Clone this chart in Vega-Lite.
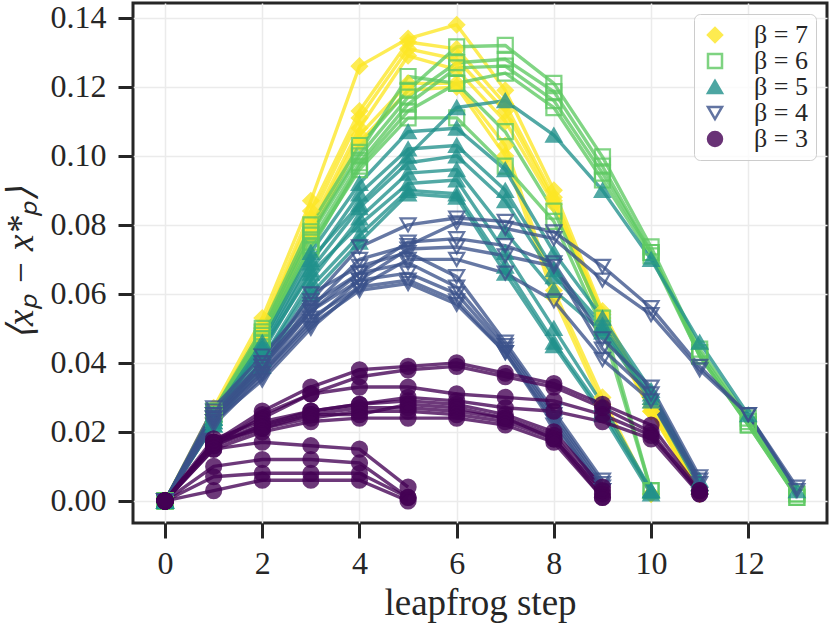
{
  "$schema": "https://vega.github.io/schema/vega-lite/v6.json",
  "width": 694,
  "height": 520,
  "autosize": "none",
  "padding": {"left": 133, "top": 3, "right": 3, "bottom": 103},
  "background": "white",
  "config": {
    "view": {"stroke": "#262626", "strokeWidth": 3},
    "font": "Liberation Serif",
    "axis": {
      "grid": true, "gridColor": "#ebebeb", "gridWidth": 1.5, "domain": false,
      "tickColor": "#262626", "tickWidth": 3, "tickSize": 15,
      "labelFont": "Liberation Serif", "labelFontSize": 32, "labelColor": "#262626",
      "titleFont": "Liberation Serif", "titleFontSize": 37, "titleFontWeight": "normal", "titleColor": "#262626"
    },
    "legend": {
      "title": null,
      "orient": "top-right",
      "offset": 11,
      "padding": 8,
      "strokeColor": "#cccccc",
      "cornerRadius": 6,
      "fillColor": "rgba(255,255,255,0.8)",
      "labelFont": "Liberation Serif",
      "labelFontSize": 26,
      "labelColor": "#262626",
      "symbolSize": 196,
      "symbolStrokeWidth": 2.5,
      "symbolOpacity": 0.8,
      "labelOffset": 26,
      "rowPadding": -4
    }
  },
  "data": {
    "values": [
      {"b":7,"r":"y1","s":0,"v":0},{"b":7,"r":"y1","s":1,"v":0.027},{"b":7,"r":"y1","s":2,"v":0.053},{"b":7,"r":"y1","s":3,"v":0.087},{"b":7,"r":"y1","s":4,"v":0.126},{"b":7,"r":"y1","s":5,"v":0.134},{"b":7,"r":"y1","s":6,"v":0.138},{"b":7,"r":"y1","s":7,"v":0.119},{"b":7,"r":"y1","s":8,"v":0.090},{"b":7,"r":"y1","s":9,"v":0.055},{"b":7,"r":"y1","s":10,"v":0.028},{"b":7,"r":"y1","s":11,"v":0.003},
      {"b":7,"r":"y2","s":0,"v":0},{"b":7,"r":"y2","s":1,"v":0.026},{"b":7,"r":"y2","s":2,"v":0.051},{"b":7,"r":"y2","s":3,"v":0.084},{"b":7,"r":"y2","s":4,"v":0.113},{"b":7,"r":"y2","s":5,"v":0.133},{"b":7,"r":"y2","s":6,"v":0.131},{"b":7,"r":"y2","s":7,"v":0.115},{"b":7,"r":"y2","s":8,"v":0.088},{"b":7,"r":"y2","s":9,"v":0.054},{"b":7,"r":"y2","s":10,"v":0.027},{"b":7,"r":"y2","s":11,"v":0.003},
      {"b":7,"r":"y3","s":0,"v":0},{"b":7,"r":"y3","s":1,"v":0.025},{"b":7,"r":"y3","s":2,"v":0.050},{"b":7,"r":"y3","s":3,"v":0.082},{"b":7,"r":"y3","s":4,"v":0.111},{"b":7,"r":"y3","s":5,"v":0.131},{"b":7,"r":"y3","s":6,"v":0.128},{"b":7,"r":"y3","s":7,"v":0.113},{"b":7,"r":"y3","s":8,"v":0.087},{"b":7,"r":"y3","s":9,"v":0.053},{"b":7,"r":"y3","s":10,"v":0.026},{"b":7,"r":"y3","s":11,"v":0.002},
      {"b":7,"r":"y4","s":0,"v":0},{"b":7,"r":"y4","s":1,"v":0.025},{"b":7,"r":"y4","s":2,"v":0.049},{"b":7,"r":"y4","s":3,"v":0.080},{"b":7,"r":"y4","s":4,"v":0.108},{"b":7,"r":"y4","s":5,"v":0.129},{"b":7,"r":"y4","s":6,"v":0.125},{"b":7,"r":"y4","s":7,"v":0.110},{"b":7,"r":"y4","s":8,"v":0.086},{"b":7,"r":"y4","s":9,"v":0.052},{"b":7,"r":"y4","s":10,"v":0.026},{"b":7,"r":"y4","s":11,"v":0.002},
      {"b":7,"r":"y5","s":0,"v":0},{"b":7,"r":"y5","s":1,"v":0.024},{"b":7,"r":"y5","s":2,"v":0.048},{"b":7,"r":"y5","s":3,"v":0.079},{"b":7,"r":"y5","s":4,"v":0.106},{"b":7,"r":"y5","s":5,"v":0.121},{"b":7,"r":"y5","s":6,"v":0.121},{"b":7,"r":"y5","s":7,"v":0.103},{"b":7,"r":"y5","s":8,"v":0.061},{"b":7,"r":"y5","s":9,"v":0.030},{"b":7,"r":"y5","s":10,"v":0.002},
      {"b":7,"r":"y6","s":0,"v":0},{"b":7,"r":"y6","s":1,"v":0.024},{"b":7,"r":"y6","s":2,"v":0.047},{"b":7,"r":"y6","s":3,"v":0.077},{"b":7,"r":"y6","s":4,"v":0.104},{"b":7,"r":"y6","s":5,"v":0.119},{"b":7,"r":"y6","s":6,"v":0.120},{"b":7,"r":"y6","s":7,"v":0.100},{"b":7,"r":"y6","s":8,"v":0.059},{"b":7,"r":"y6","s":9,"v":0.028},{"b":7,"r":"y6","s":10,"v":0.002},

      {"b":6,"r":"g1","s":0,"v":0},{"b":6,"r":"g1","s":1,"v":0.026},{"b":6,"r":"g1","s":2,"v":0.050},{"b":6,"r":"g1","s":3,"v":0.080},{"b":6,"r":"g1","s":4,"v":0.103},{"b":6,"r":"g1","s":5,"v":0.119},{"b":6,"r":"g1","s":6,"v":0.1316},{"b":6,"r":"g1","s":7,"v":0.132},{"b":6,"r":"g1","s":8,"v":0.121},{"b":6,"r":"g1","s":9,"v":0.0997},{"b":6,"r":"g1","s":10,"v":0.0736},{"b":6,"r":"g1","s":11,"v":0.044},{"b":6,"r":"g1","s":12,"v":0.024},{"b":6,"r":"g1","s":13,"v":0.002},
      {"b":6,"r":"g2","s":0,"v":0},{"b":6,"r":"g2","s":1,"v":0.025},{"b":6,"r":"g2","s":2,"v":0.048},{"b":6,"r":"g2","s":3,"v":0.077},{"b":6,"r":"g2","s":4,"v":0.100},{"b":6,"r":"g2","s":5,"v":0.117},{"b":6,"r":"g2","s":6,"v":0.127},{"b":6,"r":"g2","s":7,"v":0.128},{"b":6,"r":"g2","s":8,"v":0.1186},{"b":6,"r":"g2","s":9,"v":0.097},{"b":6,"r":"g2","s":10,"v":0.072},{"b":6,"r":"g2","s":11,"v":0.043},{"b":6,"r":"g2","s":12,"v":0.023},{"b":6,"r":"g2","s":13,"v":0.002},
      {"b":6,"r":"g3","s":0,"v":0},{"b":6,"r":"g3","s":1,"v":0.025},{"b":6,"r":"g3","s":2,"v":0.047},{"b":6,"r":"g3","s":3,"v":0.075},{"b":6,"r":"g3","s":4,"v":0.098},{"b":6,"r":"g3","s":5,"v":0.115},{"b":6,"r":"g3","s":6,"v":0.1255},{"b":6,"r":"g3","s":7,"v":0.126},{"b":6,"r":"g3","s":8,"v":0.116},{"b":6,"r":"g3","s":9,"v":0.095},{"b":6,"r":"g3","s":10,"v":0.072},{"b":6,"r":"g3","s":11,"v":0.042},{"b":6,"r":"g3","s":12,"v":0.022},{"b":6,"r":"g3","s":13,"v":0.001},
      {"b":6,"r":"g4","s":0,"v":0},{"b":6,"r":"g4","s":1,"v":0.024},{"b":6,"r":"g4","s":2,"v":0.046},{"b":6,"r":"g4","s":3,"v":0.073},{"b":6,"r":"g4","s":4,"v":0.097},{"b":6,"r":"g4","s":5,"v":0.113},{"b":6,"r":"g4","s":6,"v":0.121},{"b":6,"r":"g4","s":7,"v":0.124},{"b":6,"r":"g4","s":8,"v":0.114},{"b":6,"r":"g4","s":9,"v":0.093},{"b":6,"r":"g4","s":10,"v":0.071},{"b":6,"r":"g4","s":11,"v":0.042},{"b":6,"r":"g4","s":12,"v":0.022},{"b":6,"r":"g4","s":13,"v":0.001},
      {"b":6,"r":"g5","s":0,"v":0},{"b":6,"r":"g5","s":1,"v":0.026},{"b":6,"r":"g5","s":2,"v":0.049},{"b":6,"r":"g5","s":3,"v":0.078},{"b":6,"r":"g5","s":4,"v":0.101},{"b":6,"r":"g5","s":5,"v":0.123},{"b":6,"r":"g5","s":6,"v":0.121},{"b":6,"r":"g5","s":7,"v":0.107},{"b":6,"r":"g5","s":8,"v":0.084},{"b":6,"r":"g5","s":9,"v":0.053},{"b":6,"r":"g5","s":10,"v":0.003},
      {"b":6,"r":"g6","s":0,"v":0},{"b":6,"r":"g6","s":1,"v":0.025},{"b":6,"r":"g6","s":2,"v":0.047},{"b":6,"r":"g6","s":3,"v":0.074},{"b":6,"r":"g6","s":4,"v":0.096},{"b":6,"r":"g6","s":5,"v":0.111},{"b":6,"r":"g6","s":6,"v":0.111},{"b":6,"r":"g6","s":7,"v":0.097},{"b":6,"r":"g6","s":8,"v":0.081},{"b":6,"r":"g6","s":9,"v":0.050},{"b":6,"r":"g6","s":10,"v":0.003},

      {"b":5,"r":"t1","s":0,"v":0},{"b":5,"r":"t1","s":1,"v":0.024},{"b":5,"r":"t1","s":2,"v":0.045},{"b":5,"r":"t1","s":3,"v":0.070},{"b":5,"r":"t1","s":4,"v":0.086},{"b":5,"r":"t1","s":5,"v":0.100},{"b":5,"r":"t1","s":6,"v":0.114},{"b":5,"r":"t1","s":7,"v":0.116},{"b":5,"r":"t1","s":8,"v":0.106},{"b":5,"r":"t1","s":9,"v":0.090},{"b":5,"r":"t1","s":10,"v":0.070},{"b":5,"r":"t1","s":11,"v":0.046},{"b":5,"r":"t1","s":12,"v":0.025},{"b":5,"r":"t1","s":13,"v":0.003},
      {"b":5,"r":"t2","s":0,"v":0},{"b":5,"r":"t2","s":1,"v":0.025},{"b":5,"r":"t2","s":2,"v":0.046},{"b":5,"r":"t2","s":3,"v":0.072},{"b":5,"r":"t2","s":4,"v":0.092},{"b":5,"r":"t2","s":5,"v":0.107},{"b":5,"r":"t2","s":6,"v":0.108},{"b":5,"r":"t2","s":7,"v":0.096},{"b":5,"r":"t2","s":8,"v":0.072},{"b":5,"r":"t2","s":9,"v":0.053},{"b":5,"r":"t2","s":10,"v":0.032},{"b":5,"r":"t2","s":11,"v":0.006},
      {"b":5,"r":"t3","s":0,"v":0},{"b":5,"r":"t3","s":1,"v":0.024},{"b":5,"r":"t3","s":2,"v":0.044},{"b":5,"r":"t3","s":3,"v":0.069},{"b":5,"r":"t3","s":4,"v":0.089},{"b":5,"r":"t3","s":5,"v":0.102},{"b":5,"r":"t3","s":6,"v":0.103},{"b":5,"r":"t3","s":7,"v":0.090},{"b":5,"r":"t3","s":8,"v":0.067},{"b":5,"r":"t3","s":9,"v":0.051},{"b":5,"r":"t3","s":10,"v":0.031},{"b":5,"r":"t3","s":11,"v":0.005},
      {"b":5,"r":"t4","s":0,"v":0},{"b":5,"r":"t4","s":1,"v":0.023},{"b":5,"r":"t4","s":2,"v":0.043},{"b":5,"r":"t4","s":3,"v":0.067},{"b":5,"r":"t4","s":4,"v":0.085},{"b":5,"r":"t4","s":5,"v":0.098},{"b":5,"r":"t4","s":6,"v":0.100},{"b":5,"r":"t4","s":7,"v":0.087},{"b":5,"r":"t4","s":8,"v":0.065},{"b":5,"r":"t4","s":9,"v":0.050},{"b":5,"r":"t4","s":10,"v":0.030},{"b":5,"r":"t4","s":11,"v":0.005},
      {"b":5,"r":"t5","s":0,"v":0},{"b":5,"r":"t5","s":1,"v":0.022},{"b":5,"r":"t5","s":2,"v":0.041},{"b":5,"r":"t5","s":3,"v":0.064},{"b":5,"r":"t5","s":4,"v":0.082},{"b":5,"r":"t5","s":5,"v":0.095},{"b":5,"r":"t5","s":6,"v":0.096},{"b":5,"r":"t5","s":7,"v":0.078},{"b":5,"r":"t5","s":8,"v":0.061},{"b":5,"r":"t5","s":9,"v":0.049},{"b":5,"r":"t5","s":10,"v":0.029},{"b":5,"r":"t5","s":11,"v":0.004},
      {"b":5,"r":"t6","s":0,"v":0},{"b":5,"r":"t6","s":1,"v":0.024},{"b":5,"r":"t6","s":2,"v":0.044},{"b":5,"r":"t6","s":3,"v":0.066},{"b":5,"r":"t6","s":4,"v":0.080},{"b":5,"r":"t6","s":5,"v":0.092},{"b":5,"r":"t6","s":6,"v":0.093},{"b":5,"r":"t6","s":7,"v":0.072},{"b":5,"r":"t6","s":8,"v":0.050},{"b":5,"r":"t6","s":9,"v":0.028},{"b":5,"r":"t6","s":10,"v":0.003},
      {"b":5,"r":"t7","s":0,"v":0},{"b":5,"r":"t7","s":1,"v":0.023},{"b":5,"r":"t7","s":2,"v":0.041},{"b":5,"r":"t7","s":3,"v":0.062},{"b":5,"r":"t7","s":4,"v":0.077},{"b":5,"r":"t7","s":5,"v":0.090},{"b":5,"r":"t7","s":6,"v":0.089},{"b":5,"r":"t7","s":7,"v":0.068},{"b":5,"r":"t7","s":8,"v":0.046},{"b":5,"r":"t7","s":9,"v":0.026},{"b":5,"r":"t7","s":10,"v":0.003},
      {"b":5,"r":"t8","s":0,"v":0},{"b":5,"r":"t8","s":1,"v":0.022},{"b":5,"r":"t8","s":2,"v":0.039},{"b":5,"r":"t8","s":3,"v":0.060},{"b":5,"r":"t8","s":4,"v":0.075},{"b":5,"r":"t8","s":5,"v":0.089},{"b":5,"r":"t8","s":6,"v":0.088},{"b":5,"r":"t8","s":7,"v":0.066},{"b":5,"r":"t8","s":8,"v":0.045},{"b":5,"r":"t8","s":9,"v":0.025},{"b":5,"r":"t8","s":10,"v":0.002},

      {"b":4,"r":"b1","s":0,"v":0},{"b":4,"r":"b1","s":1,"v":0.027},{"b":4,"r":"b1","s":2,"v":0.042},{"b":4,"r":"b1","s":3,"v":0.058},{"b":4,"r":"b1","s":4,"v":0.0736},{"b":4,"r":"b1","s":5,"v":0.080},{"b":4,"r":"b1","s":6,"v":0.082},{"b":4,"r":"b1","s":7,"v":0.081},{"b":4,"r":"b1","s":8,"v":0.078},{"b":4,"r":"b1","s":9,"v":0.068},{"b":4,"r":"b1","s":10,"v":0.056},{"b":4,"r":"b1","s":11,"v":0.039},{"b":4,"r":"b1","s":12,"v":0.025},{"b":4,"r":"b1","s":13,"v":0.004},
      {"b":4,"r":"b2","s":0,"v":0},{"b":4,"r":"b2","s":1,"v":0.026},{"b":4,"r":"b2","s":2,"v":0.040},{"b":4,"r":"b2","s":3,"v":0.056},{"b":4,"r":"b2","s":4,"v":0.070},{"b":4,"r":"b2","s":5,"v":0.074},{"b":4,"r":"b2","s":6,"v":0.0806},{"b":4,"r":"b2","s":7,"v":0.079},{"b":4,"r":"b2","s":8,"v":0.076},{"b":4,"r":"b2","s":9,"v":0.064},{"b":4,"r":"b2","s":10,"v":0.054},{"b":4,"r":"b2","s":11,"v":0.038},{"b":4,"r":"b2","s":12,"v":0.025},{"b":4,"r":"b2","s":13,"v":0.003},
      {"b":4,"r":"b3","s":0,"v":0},{"b":4,"r":"b3","s":1,"v":0.025},{"b":4,"r":"b3","s":2,"v":0.039},{"b":4,"r":"b3","s":3,"v":0.055},{"b":4,"r":"b3","s":4,"v":0.066},{"b":4,"r":"b3","s":5,"v":0.075},{"b":4,"r":"b3","s":6,"v":0.076},{"b":4,"r":"b3","s":7,"v":0.074},{"b":4,"r":"b3","s":8,"v":0.069},{"b":4,"r":"b3","s":9,"v":0.047},{"b":4,"r":"b3","s":10,"v":0.033},{"b":4,"r":"b3","s":11,"v":0.007},
      {"b":4,"r":"b4","s":0,"v":0},{"b":4,"r":"b4","s":1,"v":0.024},{"b":4,"r":"b4","s":2,"v":0.037},{"b":4,"r":"b4","s":3,"v":0.052},{"b":4,"r":"b4","s":4,"v":0.064},{"b":4,"r":"b4","s":5,"v":0.073},{"b":4,"r":"b4","s":6,"v":0.0736},{"b":4,"r":"b4","s":7,"v":0.071},{"b":4,"r":"b4","s":8,"v":0.068},{"b":4,"r":"b4","s":9,"v":0.044},{"b":4,"r":"b4","s":10,"v":0.031},{"b":4,"r":"b4","s":11,"v":0.006},
      {"b":4,"r":"b5","s":0,"v":0},{"b":4,"r":"b5","s":1,"v":0.023},{"b":4,"r":"b5","s":2,"v":0.035},{"b":4,"r":"b5","s":3,"v":0.050},{"b":4,"r":"b5","s":4,"v":0.062},{"b":4,"r":"b5","s":5,"v":0.070},{"b":4,"r":"b5","s":6,"v":0.070},{"b":4,"r":"b5","s":7,"v":0.066},{"b":4,"r":"b5","s":8,"v":0.058},{"b":4,"r":"b5","s":9,"v":0.041},{"b":4,"r":"b5","s":10,"v":0.029},{"b":4,"r":"b5","s":11,"v":0.005},
      {"b":4,"r":"b6","s":0,"v":0},{"b":4,"r":"b6","s":1,"v":0.025},{"b":4,"r":"b6","s":2,"v":0.040},{"b":4,"r":"b6","s":3,"v":0.060},{"b":4,"r":"b6","s":4,"v":0.068},{"b":4,"r":"b6","s":5,"v":0.072},{"b":4,"r":"b6","s":6,"v":0.065},{"b":4,"r":"b6","s":7,"v":0.046},{"b":4,"r":"b6","s":8,"v":0.026},{"b":4,"r":"b6","s":9,"v":0.006},
      {"b":4,"r":"b7","s":0,"v":0},{"b":4,"r":"b7","s":1,"v":0.024},{"b":4,"r":"b7","s":2,"v":0.039},{"b":4,"r":"b7","s":3,"v":0.057},{"b":4,"r":"b7","s":4,"v":0.066},{"b":4,"r":"b7","s":5,"v":0.069},{"b":4,"r":"b7","s":6,"v":0.062},{"b":4,"r":"b7","s":7,"v":0.045},{"b":4,"r":"b7","s":8,"v":0.025},{"b":4,"r":"b7","s":9,"v":0.005},
      {"b":4,"r":"b8","s":0,"v":0},{"b":4,"r":"b8","s":1,"v":0.024},{"b":4,"r":"b8","s":2,"v":0.038},{"b":4,"r":"b8","s":3,"v":0.055},{"b":4,"r":"b8","s":4,"v":0.064},{"b":4,"r":"b8","s":5,"v":0.066},{"b":4,"r":"b8","s":6,"v":0.060},{"b":4,"r":"b8","s":7,"v":0.044},{"b":4,"r":"b8","s":8,"v":0.024},{"b":4,"r":"b8","s":9,"v":0.004},
      {"b":4,"r":"b9","s":0,"v":0},{"b":4,"r":"b9","s":1,"v":0.023},{"b":4,"r":"b9","s":2,"v":0.037},{"b":4,"r":"b9","s":3,"v":0.053},{"b":4,"r":"b9","s":4,"v":0.062},{"b":4,"r":"b9","s":5,"v":0.064},{"b":4,"r":"b9","s":6,"v":0.058},{"b":4,"r":"b9","s":7,"v":0.043},{"b":4,"r":"b9","s":8,"v":0.023},{"b":4,"r":"b9","s":9,"v":0.003},
      {"b":4,"r":"b10","s":0,"v":0},{"b":4,"r":"b10","s":1,"v":0.022},{"b":4,"r":"b10","s":2,"v":0.036},{"b":4,"r":"b10","s":3,"v":0.051},{"b":4,"r":"b10","s":4,"v":0.061},{"b":4,"r":"b10","s":5,"v":0.063},{"b":4,"r":"b10","s":6,"v":0.057},{"b":4,"r":"b10","s":7,"v":0.043},{"b":4,"r":"b10","s":8,"v":0.022},{"b":4,"r":"b10","s":9,"v":0.003},

      {"b":3,"r":"p1","s":0,"v":0},{"b":3,"r":"p1","s":1,"v":0.017},{"b":3,"r":"p1","s":2,"v":0.026},{"b":3,"r":"p1","s":3,"v":0.033},{"b":3,"r":"p1","s":4,"v":0.038},{"b":3,"r":"p1","s":5,"v":0.039},{"b":3,"r":"p1","s":6,"v":0.040},{"b":3,"r":"p1","s":7,"v":0.037},{"b":3,"r":"p1","s":8,"v":0.034},{"b":3,"r":"p1","s":9,"v":0.028},{"b":3,"r":"p1","s":10,"v":0.022},{"b":3,"r":"p1","s":11,"v":0.003},
      {"b":3,"r":"p2","s":0,"v":0},{"b":3,"r":"p2","s":1,"v":0.016},{"b":3,"r":"p2","s":2,"v":0.025},{"b":3,"r":"p2","s":3,"v":0.031},{"b":3,"r":"p2","s":4,"v":0.036},{"b":3,"r":"p2","s":5,"v":0.038},{"b":3,"r":"p2","s":6,"v":0.039},{"b":3,"r":"p2","s":7,"v":0.036},{"b":3,"r":"p2","s":8,"v":0.033},{"b":3,"r":"p2","s":9,"v":0.027},{"b":3,"r":"p2","s":10,"v":0.020},{"b":3,"r":"p2","s":11,"v":0.002},
      {"b":3,"r":"p3","s":0,"v":0},{"b":3,"r":"p3","s":1,"v":0.017},{"b":3,"r":"p3","s":2,"v":0.024},{"b":3,"r":"p3","s":3,"v":0.031},{"b":3,"r":"p3","s":4,"v":0.033},{"b":3,"r":"p3","s":5,"v":0.033},{"b":3,"r":"p3","s":6,"v":0.031},{"b":3,"r":"p3","s":7,"v":0.030},{"b":3,"r":"p3","s":8,"v":0.029},{"b":3,"r":"p3","s":9,"v":0.025},{"b":3,"r":"p3","s":10,"v":0.019},{"b":3,"r":"p3","s":11,"v":0.003},
      {"b":3,"r":"p4","s":0,"v":0},{"b":3,"r":"p4","s":1,"v":0.016},{"b":3,"r":"p4","s":2,"v":0.022},{"b":3,"r":"p4","s":3,"v":0.026},{"b":3,"r":"p4","s":4,"v":0.028},{"b":3,"r":"p4","s":5,"v":0.030},{"b":3,"r":"p4","s":6,"v":0.029},{"b":3,"r":"p4","s":7,"v":0.027},{"b":3,"r":"p4","s":8,"v":0.026},{"b":3,"r":"p4","s":9,"v":0.023},{"b":3,"r":"p4","s":10,"v":0.018},{"b":3,"r":"p4","s":11,"v":0.002},
      {"b":3,"r":"p5","s":0,"v":0},{"b":3,"r":"p5","s":1,"v":0.018},{"b":3,"r":"p5","s":2,"v":0.023},{"b":3,"r":"p5","s":3,"v":0.026},{"b":3,"r":"p5","s":4,"v":0.028},{"b":3,"r":"p5","s":5,"v":0.029},{"b":3,"r":"p5","s":6,"v":0.028},{"b":3,"r":"p5","s":7,"v":0.025},{"b":3,"r":"p5","s":8,"v":0.020},{"b":3,"r":"p5","s":9,"v":0.004},
      {"b":3,"r":"p6","s":0,"v":0},{"b":3,"r":"p6","s":1,"v":0.017},{"b":3,"r":"p6","s":2,"v":0.022},{"b":3,"r":"p6","s":3,"v":0.025},{"b":3,"r":"p6","s":4,"v":0.027},{"b":3,"r":"p6","s":5,"v":0.027},{"b":3,"r":"p6","s":6,"v":0.026},{"b":3,"r":"p6","s":7,"v":0.024},{"b":3,"r":"p6","s":8,"v":0.019},{"b":3,"r":"p6","s":9,"v":0.002},
      {"b":3,"r":"p7","s":0,"v":0},{"b":3,"r":"p7","s":1,"v":0.016},{"b":3,"r":"p7","s":2,"v":0.021},{"b":3,"r":"p7","s":3,"v":0.024},{"b":3,"r":"p7","s":4,"v":0.026},{"b":3,"r":"p7","s":5,"v":0.026},{"b":3,"r":"p7","s":6,"v":0.025},{"b":3,"r":"p7","s":7,"v":0.023},{"b":3,"r":"p7","s":8,"v":0.018},{"b":3,"r":"p7","s":9,"v":0.001},
      {"b":3,"r":"p8","s":0,"v":0},{"b":3,"r":"p8","s":1,"v":0.015},{"b":3,"r":"p8","s":2,"v":0.020},{"b":3,"r":"p8","s":3,"v":0.023},{"b":3,"r":"p8","s":4,"v":0.024},{"b":3,"r":"p8","s":5,"v":0.024},{"b":3,"r":"p8","s":6,"v":0.024},{"b":3,"r":"p8","s":7,"v":0.022},{"b":3,"r":"p8","s":8,"v":0.017},{"b":3,"r":"p8","s":9,"v":0.001},
      {"b":3,"r":"p9","s":0,"v":0},{"b":3,"r":"p9","s":1,"v":0.017},{"b":3,"r":"p9","s":2,"v":0.021},{"b":3,"r":"p9","s":3,"v":0.025},{"b":3,"r":"p9","s":4,"v":0.025},{"b":3,"r":"p9","s":5,"v":0.028},{"b":3,"r":"p9","s":6,"v":0.027},{"b":3,"r":"p9","s":7,"v":0.024},{"b":3,"r":"p9","s":8,"v":0.018},{"b":3,"r":"p9","s":9,"v":0.003},
      {"b":3,"r":"s1","s":0,"v":0},{"b":3,"r":"s1","s":1,"v":0.015},{"b":3,"r":"s1","s":2,"v":0.017},{"b":3,"r":"s1","s":3,"v":0.016},{"b":3,"r":"s1","s":4,"v":0.015},{"b":3,"r":"s1","s":5,"v":0.004},
      {"b":3,"r":"s2","s":0,"v":0},{"b":3,"r":"s2","s":1,"v":0.010},{"b":3,"r":"s2","s":2,"v":0.012},{"b":3,"r":"s2","s":3,"v":0.012},{"b":3,"r":"s2","s":4,"v":0.011},{"b":3,"r":"s2","s":5,"v":0.001},
      {"b":3,"r":"s3","s":0,"v":0},{"b":3,"r":"s3","s":1,"v":0.007},{"b":3,"r":"s3","s":2,"v":0.008},{"b":3,"r":"s3","s":3,"v":0.008},{"b":3,"r":"s3","s":4,"v":0.008},{"b":3,"r":"s3","s":5,"v":0.001},
      {"b":3,"r":"s4","s":0,"v":0},{"b":3,"r":"s4","s":1,"v":0.003},{"b":3,"r":"s4","s":2,"v":0.006},{"b":3,"r":"s4","s":3,"v":0.006},{"b":3,"r":"s4","s":4,"v":0.006},{"b":3,"r":"s4","s":5,"v":0.000}
    ]
  },
  "encoding": {
    "x": {
      "field": "s", "type": "quantitative",
      "scale": {"domain": [-0.66, 13.62], "nice": false, "zero": false},
      "axis": {"values": [0, 2, 4, 6, 8, 10, 12], "format": "d", "title": "leapfrog step", "labelPadding": 10, "titlePadding": 6}
    },
    "y": {
      "field": "v", "type": "quantitative",
      "scale": {"domain": [-0.0064, 0.1443], "nice": false, "zero": false},
      "axis": {"values": [0, 0.02, 0.04, 0.06, 0.08, 0.1, 0.12, 0.14], "format": ".2f", "title": "⟨xₚ − x*ₚ⟩", "titleFontStyle": "italic", "labelPadding": 12, "titlePadding": 10}
    },
    "color": {
      "field": "b", "type": "nominal",
      "scale": {"domain": [7, 6, 5, 4, 3], "range": ["#fde725", "#5ec962", "#21918c", "#3b528b", "#440154"]},
      "legend": {"labelExpr": "'β = ' + datum.label"}
    }
  },
  "layer": [
    {
      "mark": {"type": "line", "strokeWidth": 3.4, "opacity": 0.78, "strokeJoin": "round"},
      "encoding": {"detail": {"field": "r"}}
    },
    {
      "mark": {"type": "point", "size": 225, "strokeWidth": 2.2, "opacity": 0.78},
      "encoding": {
        "shape": {
          "field": "b", "type": "nominal",
          "scale": {"domain": [7, 6, 5, 4, 3], "range": ["diamond", "square", "triangle-up", "triangle-down", "circle"]},
          "legend": {"labelExpr": "'β = ' + datum.label"}
        },
        "fill": {
          "field": "b", "type": "nominal",
          "scale": {"domain": [7, 6, 5, 4, 3], "range": ["#fde725", "transparent", "#21918c", "transparent", "#440154"]},
          "legend": {"labelExpr": "'β = ' + datum.label"}
        }
      }
    }
  ]
}
